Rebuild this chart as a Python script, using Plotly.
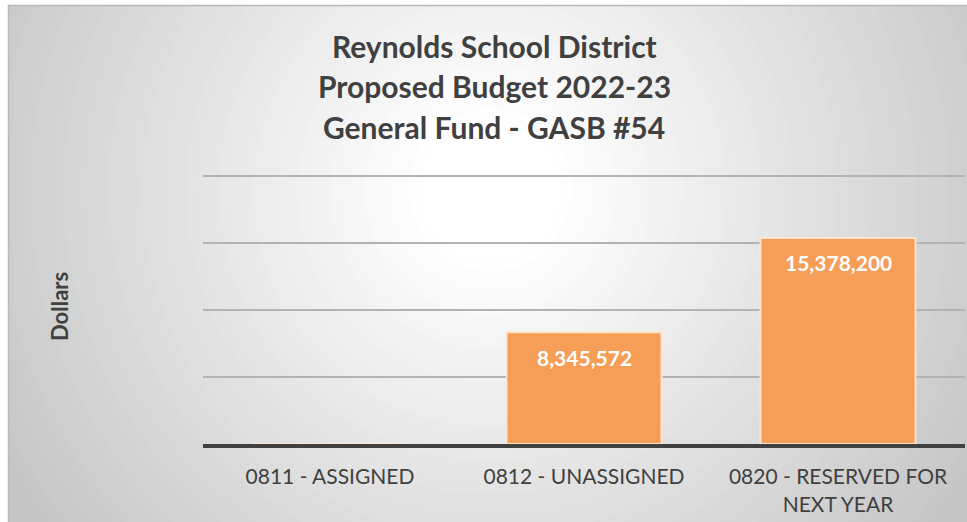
import plotly.graph_objects as go

categories = ["0811 - ASSIGNED", "0812 - UNASSIGNED", "0820 - RESERVED FOR<br>NEXT YEAR"]
values = [0, 8345572, 15378200]
labels = ["", "8,345,572", "15,378,200"]
title_lines = ["Reynolds School District", "Proposed Budget 2022-23", "General Fund - GASB #54"]
y_title = "Dollars"

W, H = 967, 522
L, R, T, B = 203, 965, 174, 444  # plot area in pixels
FONT = "Lato, Liberation Sans, Arial"


def px(x):
    return (x - L) / (R - L)


def py(y):
    return (B - y) / (B - T)


fig = go.Figure()
fig.add_trace(go.Bar(
    x=categories, y=values,
    marker=dict(color="#F69E58", line=dict(color="rgba(255,232,210,0.9)", width=2)),
    hoverinfo="skip", textposition="none",
))

shapes = []
# background gradient
shapes.append(dict(type="rect", xref="paper", yref="paper", x0=px(8), x1=px(W + 5), y0=py(H + 5), y1=py(5),
                   fillcolor="#c6c6c6", line=dict(width=0), layer="below"))
cx, cy = 490, 190
N = 45
rmax, rmin = 560, 70
for i in range(N):
    r = rmax - (rmax - rmin) * i / (N - 1)
    t = (r - rmin) / (rmax - rmin)
    c = int(round(255 - (255 - 198) * t))
    shapes.append(dict(type="circle", xref="paper", yref="paper",
                       x0=px(cx - r), x1=px(cx + r), y0=py(cy + r), y1=py(cy - r),
                       fillcolor=f"rgb({c},{c},{c})", line=dict(width=0), layer="below"))
# white margins outside image
shapes.append(dict(type="rect", xref="paper", yref="paper", x0=px(-700), x1=px(8), y0=py(H + 700), y1=py(-700),
                   fillcolor="white", line=dict(width=0), layer="below"))
shapes.append(dict(type="rect", xref="paper", yref="paper", x0=px(-700), x1=px(W + 700), y0=py(5), y1=py(-700),
                   fillcolor="white", line=dict(width=0), layer="below"))
shapes.append(dict(type="line", xref="paper", yref="paper", x0=px(8), x1=px(W + 5), y0=py(5.5), y1=py(5.5),
                   line=dict(color="#b9b9b9", width=1.5), layer="below"))
shapes.append(dict(type="line", xref="paper", yref="paper", x0=px(8.5), x1=px(8.5), y0=py(5), y1=py(H + 5),
                   line=dict(color="#b9b9b9", width=1.5), layer="below"))

annotations = []
for i, line in enumerate(title_lines):
    annotations.append(dict(text=f"<b>{line}</b>", xref="paper", yref="paper", x=px(494), y=py([46, 86, 127][i]),
                            xanchor="center", yanchor="middle", showarrow=False,
                            font=dict(family=FONT, size=30, color="#404040")))
annotations.append(dict(text=f"<b>{y_title}</b>", xref="paper", yref="paper", x=px(59), y=py(307),
                        textangle=-90, xanchor="center", yanchor="middle", showarrow=False,
                        font=dict(family=FONT, size=22, color="#404040")))
for c, v, lab in zip(categories, values, labels):
    if lab:
        annotations.append(dict(text=f"<b>{lab}</b>", x=c, y=v, xref="x", yref="y", yshift=-25,
                                xanchor="center", yanchor="middle", showarrow=False,
                                font=dict(family=FONT, size=21, color="white")))

fig.update_layout(
    width=W, height=H,
    margin=dict(l=L, r=W - R, t=T, b=H - B),
    paper_bgcolor="white", plot_bgcolor="rgba(0,0,0,0)",
    showlegend=False, bargap=0.39,
    shapes=shapes, annotations=annotations,
    xaxis=dict(showline=True, linecolor="#404040", linewidth=4, ticks="", ticklabelstandoff=11,
               tickfont=dict(family=FONT, size=21, color="#404040"),
               showgrid=False),
    yaxis=dict(range=[0, 20150000], dtick=5000000, showticklabels=False, showgrid=True,
               gridcolor="#b3b3b3", gridwidth=2, zeroline=False, showline=False),
)

fig.write_html("out.html", config={"displayModeBar": False},
               post_script="document.body.style.margin='0';")
